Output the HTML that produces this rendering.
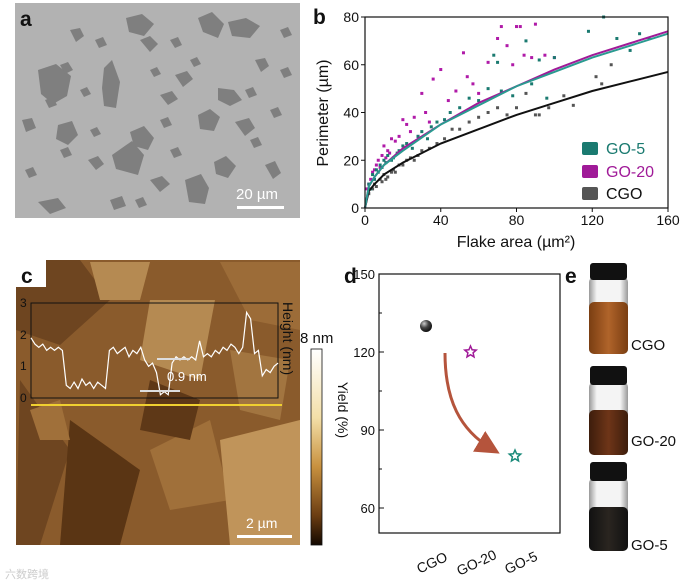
<!DOCTYPE html>
<html><head><meta charset="utf-8"><style>
body{margin:0;background:#fff;}
svg{display:block;font-family:"Liberation Sans",Arial,sans-serif;}
</style></head><body>
<svg id="fig" width="690" height="583" viewBox="0 0 690 583">
<defs>
<linearGradient id="cbar" x1="0" y1="0" x2="0" y2="1">
<stop offset="0" stop-color="#fff"/><stop offset="0.35" stop-color="#f3dfa8"/><stop offset="0.6" stop-color="#c8913f"/><stop offset="0.85" stop-color="#6b3d12"/><stop offset="1" stop-color="#120800"/></linearGradient>
<radialGradient id="ball" cx="0.35" cy="0.3" r="0.7"><stop offset="0" stop-color="#ccc"/><stop offset="0.5" stop-color="#444"/><stop offset="1" stop-color="#111"/></radialGradient>
<linearGradient id="v1" x1="0" x2="1"><stop offset="0" stop-color="#7a3e12"/><stop offset="0.5" stop-color="#b0642a"/><stop offset="1" stop-color="#7a3e12"/></linearGradient>
<linearGradient id="v2" x1="0" x2="1"><stop offset="0" stop-color="#3d1d0c"/><stop offset="0.5" stop-color="#6e3518"/><stop offset="1" stop-color="#3d1d0c"/></linearGradient>
<linearGradient id="v3" x1="0" x2="1"><stop offset="0" stop-color="#111"/><stop offset="0.5" stop-color="#2a2520"/><stop offset="1" stop-color="#111"/></linearGradient>
<linearGradient id="glass" x1="0" x2="1"><stop offset="0" stop-color="#999"/><stop offset="0.2" stop-color="#f4f4f4"/><stop offset="0.8" stop-color="#f4f4f4"/><stop offset="1" stop-color="#999"/></linearGradient>
<marker id="ah" markerWidth="8" markerHeight="8" refX="5" refY="4" orient="auto"><path d="M0,0 L8,4 L0,8 Z" fill="#b5543c"/></marker>
</defs>

<!-- Panel a -->
<g>
<rect x="15" y="3" width="285" height="215" fill="#b2b2b2"/>
<g fill="#7f7f7f">
<path d="M38,70 l18,-6 15,12 -4,20 -14,8 -12,-10z"/><path d="M104,68 l8,-8 8,22 -4,26 -12,-2 -2,-18z"/>
<path d="M126,18 l16,-4 12,10 -10,12 -15,-4z"/><path d="M198,18 l14,-6 12,12 -6,14 -15,-6z"/>
<path d="M228,22 l18,-4 14,8 -10,12 -18,-2z"/><path d="M58,125 l14,-4 6,14 -10,10 -12,-6z"/>
<path d="M112,155 l20,-14 12,14 -6,20 -22,-6z"/><path d="M130,132 l14,-6 10,12 -6,12 -14,-4z"/>
<path d="M198,115 l12,-6 10,8 -6,14 -14,-2z"/><path d="M218,88 l16,2 8,10 -12,6 -12,-6z"/>
<path d="M185,180 l16,-6 8,14 -4,16 -16,-2z"/><path d="M214,162 l12,-6 10,10 -8,12 -12,-4z"/>
<path d="M38,202 l20,-4 8,10 -16,6z"/><path d="M150,180 l12,-4 8,8 -10,8z"/><path d="M235,122 l14,-4 6,10 -10,8z"/>
<path d="M140,40 l10,-4 8,8 -8,8z"/><path d="M175,75 l12,-4 6,8 -10,8z"/><path d="M265,165 l10,-4 6,12 -8,6z"/>
<path d="M70,30 l10,-2 4,8 -8,6z"/><path d="M88,160 l10,-4 6,8 -8,6z"/><path d="M255,60 l10,-2 4,8 -8,6z"/>
<path d="M160,95 l12,-4 6,8 -10,6z"/><path d="M22,120 l10,-2 4,10 -10,4z"/><path d="M110,200 l12,-4 4,10 -12,4z"/>
<path d="M60,65 l8,-3 5,8 -8,4z"/><path d="M80,90 l7,-3 4,7 -7,3z"/><path d="M150,70 l7,-3 4,7 -7,3z"/>
<path d="M170,40 l8,-3 4,8 -7,3z"/><path d="M190,60 l7,-3 4,7 -7,3z"/><path d="M245,90 l8,-3 4,8 -8,3z"/>
<path d="M270,110 l8,-3 4,8 -8,3z"/><path d="M60,150 l8,-3 4,8 -8,3z"/><path d="M90,130 l7,-3 4,7 -7,3z"/>
<path d="M170,150 l8,-3 4,8 -8,3z"/><path d="M250,140 l8,-3 4,8 -8,3z"/><path d="M280,70 l8,-3 4,8 -8,3z"/>
<path d="M25,170 l8,-3 4,8 -8,3z"/><path d="M135,200 l8,-3 4,8 -8,3z"/><path d="M280,30 l8,-3 4,8 -8,3z"/>
<path d="M95,40 l8,-3 4,8 -8,3z"/><path d="M45,100 l8,-3 4,8 -8,3z"/><path d="M160,120 l8,-3 4,8 -8,3z"/>
</g>
<text x="20" y="26" font-size="21" font-weight="bold" fill="#111">a</text>
<text x="236" y="199" font-size="15" fill="#fff">20 µm</text>
<rect x="237" y="206" width="47" height="3" fill="#fff"/>
</g>

<!-- Panel b -->
<text x="313" y="24" font-size="21" font-weight="bold" fill="#111">b</text>
<g id="pb"></g>

<!-- Panel c -->
<g>
<rect x="16" y="260" width="284" height="285" fill="#8a5b2c"/>
<g>
<path d="M16,260 L80,260 L110,300 L60,345 L16,330z" fill="#6e4520"/>
<path d="M90,262 L150,262 L140,300 L100,300z" fill="#b58a52"/>
<path d="M150,300 L215,300 L200,380 L140,360z" fill="#b58a52"/>
<path d="M220,262 L300,262 L300,330 L250,320z" fill="#9c6c38"/>
<path d="M20,380 L70,450 L40,545 L16,545z" fill="#6e4520"/>
<path d="M70,420 L140,470 L120,545 L60,545z" fill="#5a3514"/>
<path d="M150,450 L210,420 L230,500 L170,510z" fill="#a0703a"/>
<path d="M220,440 L300,420 L300,545 L230,545z" fill="#c0945a"/>
<path d="M230,350 L290,360 L280,420 L240,410z" fill="#a27540"/>
<path d="M150,380 L200,400 L190,440 L140,430z" fill="#5e3817"/>
<path d="M30,410 L60,400 L70,440 L40,440z" fill="#a0703a"/>
</g>
<rect x="31" y="303" width="247" height="95" fill="none" stroke="#111" stroke-width="1"/>
<line x1="31" y1="405" x2="282" y2="405" stroke="#f0d030" stroke-width="2"/>
<g font-size="12" fill="#111">
<text x="20" y="307">3</text><text x="20" y="339">2</text><text x="20" y="370">1</text><text x="20" y="402">0</text>
<text transform="translate(283,302) rotate(90)" font-size="14">Height (nm)</text>
</g>
<polyline id="prof" fill="none" stroke="#fff" stroke-width="1.2"/>
<line x1="157" y1="359" x2="190" y2="359" stroke="#ddd" stroke-width="2"/>
<line x1="140" y1="391" x2="180" y2="391" stroke="#ddd" stroke-width="2"/>
<text x="167" y="381" font-size="13" fill="#fff">0.9 nm</text>
<rect x="16" y="260" width="30" height="27" fill="#fff"/>
<text x="21" y="283" font-size="21" font-weight="bold" fill="#111">c</text>
<text x="246" y="528" font-size="14" fill="#fff">2 µm</text>
<rect x="237" y="535" width="55" height="3" fill="#fff"/>
<rect x="311" y="349" width="11" height="196" fill="url(#cbar)" stroke="#111" stroke-width="0.8"/>
<text x="300" y="343" font-size="15" fill="#111">8 nm</text>
</g>

<!-- Panel d -->
<text x="344" y="283" font-size="21" font-weight="bold" fill="#111">d</text>
<g id="pd"></g>

<!-- Panel e -->
<g>
<text x="565" y="283" font-size="21" font-weight="bold" fill="#111">e</text>
<g>
<rect x="589" y="277" width="39" height="77" rx="5" fill="url(#glass)"/>
<rect x="589" y="302" width="39" height="52" rx="5" fill="url(#v1)"/>
<rect x="590" y="263" width="37" height="17" rx="3" fill="#111"/></g>
<text x="631" y="350" font-size="15" fill="#111">CGO</text>
<g>
<rect x="589" y="382" width="39" height="73" rx="5" fill="url(#glass)"/>
<rect x="589" y="410" width="39" height="45" rx="5" fill="url(#v2)"/>
<rect x="590" y="366" width="37" height="19" rx="3" fill="#111"/></g>
<text x="631" y="446" font-size="15" fill="#111">GO-20</text>
<g>
<rect x="589" y="478" width="39" height="73" rx="5" fill="url(#glass)"/>
<rect x="589" y="507" width="39" height="44" rx="5" fill="url(#v3)"/>
<rect x="590" y="462" width="37" height="19" rx="3" fill="#111"/></g>
<text x="631" y="550" font-size="15" fill="#111">GO-5</text>
</g>
<text x="5" y="578" font-size="11" fill="#ccc" font-family="'Liberation Sans','Noto Sans CJK SC',sans-serif">六数跨境</text>
</svg>
<script>
const NS='http://www.w3.org/2000/svg';
// ---- Panel b data ----
const bXTicks=[0,40,80,120,160];
const bYTicks=[0,20,40,60,80];
const fitX=[0,2,5,10,20,40,60,80,100,120,140,160];
const fitGO5=[0,9,13,18,24,35,43,51,57,63,68,73];
const fitGO20=[0,9,13,18,25,35,44,51,58,64,69,74];
const fitCGO=[0,7,10,14,19,27,33,39,44,49,53,57];
const go5X=[2,3,4,5,6,7,8,9,10,11,12,14,15,17,18,20,22,25,28,30,33,35,38,42,45,50,55,60,65,68,70,72,78,85,88,92,96,100,118,126,133,140,145,150];
const go5Y=[10,8,14,12,16,15,18,17,20,19,22,20,21,23,24,26,27,25,30,32,29,34,36,37,40,42,46,45,50,64,61,49,47,70,52,62,46,63,74,80,71,66,73,71];
const go20X=[1,2,3,4,5,6,7,8,9,10,11,12,13,14,16,18,20,22,24,26,28,30,32,34,36,40,44,48,52,54,57,60,65,70,72,75,78,80,82,84,88,90,95,100];
const go20Y=[8,10,12,15,16,18,20,17,22,26,21,24,23,29,28,30,37,35,32,38,30,48,40,36,54,58,45,49,65,55,52,48,61,71,76,68,60,76,76,64,63,77,64,63];
const cgoX=[2,4,5,6,8,9,10,11,12,14,15,16,18,20,22,24,26,28,30,34,38,42,46,50,55,60,65,70,75,80,85,90,92,97,105,110,122,125,130];
const cgoY=[6,8,10,9,12,11,14,12,13,15,16,15,18,18,20,21,20,22,24,25,27,29,33,33,36,38,40,42,39,42,48,39,39,42,47,43,55,52,60];
const bx=v=>365+v*(668-365)/160, by=v=>208-v*(208-17)/80;
function el(t,a,p){const e=document.createElementNS(NS,t);for(const k in a)e.setAttribute(k,a[k]);(p||document.getElementById('fig')).appendChild(e);return e;}
const pb=document.getElementById('pb');
function dots(xs,ys,c,n){xs.forEach((x,i)=>{const r=el('rect',{x:bx(x)-1.5,y:by(ys[i])-1.5,width:3,height:3,fill:c},pb);

});}
dots(cgoX,cgoY,'#555','cgo-point');dots(go20X,go20Y,'#b01aa8','go20-point');dots(go5X,go5Y,'#1a7a70','go5-point');
function fit(ys,c,n){const p=el('polyline',{points:fitX.map((x,i)=>bx(x)+','+by(ys[i])).join(' '),fill:'none',stroke:c,'stroke-width':2},pb);

}
fit(fitCGO,'#111','cgo-fit');fit(fitGO20,'#a01a98','go20-fit');fit(fitGO5,'#2a9a90','go5-fit');
el('rect',{x:365,y:17,width:303,height:191,fill:'none',stroke:'#111','stroke-width':1.2},pb);
bXTicks.forEach(t=>{el('line',{x1:bx(t),x2:bx(t),y1:208,y2:212,stroke:'#111'},pb);
const tx=el('text',{x:bx(t),y:225,'font-size':14,'text-anchor':'middle',fill:'#111'},pb);tx.textContent=t;

});
bYTicks.forEach(t=>{el('line',{x1:361,x2:365,y1:by(t),y2:by(t),stroke:'#111'},pb);
const tx=el('text',{x:359,y:by(t)+5,'font-size':14,'text-anchor':'end',fill:'#111'},pb);tx.textContent=t;

});
let t=el('text',{x:516,y:247,'font-size':16,'text-anchor':'middle',fill:'#111'},pb);t.textContent='Flake area (µm²)';


t=el('text',{transform:'translate(328,113) rotate(-90)','font-size':16,'text-anchor':'middle',fill:'#111'},pb);t.textContent='Perimeter (µm)';


[['GO-5','#1a7a70',153],['GO-20','#a01a98',176],['CGO','#555',198]].forEach(([n,c,y])=>{
const g=el('g',{},pb);


el('rect',{x:582,y:y-11,width:16,height:13,rx:2,fill:c},g);
const x=el('text',{x:606,y:y+1,'font-size':16,fill:c==='#555'?'#111':c},g);x.textContent=n;});
// ---- profile ----
const profH=[1.9,1.7,1.6,1.7,1.5,1.6,1.5,1.6,1.5,0.4,0.3,0.5,0.3,0.6,0.4,0.5,0.3,0.5,0.4,0.3,1.5,1.6,1.4,1.5,1.6,1.3,1.5,1.4,1.6,1.2,1.0,1.1,0.8,0.1,0.2,0.1,1.1,1.3,1.2,1.3,1.2,1.3,1.2,1.8,1.3,1.4,1.3,1.5,1.4,1.6,1.5,1.7,1.6,1.4,1.6,2.7,2.5,1.4,1.5,0.7,0.9,0.8,1.0,1.1];
const prof=document.getElementById('prof');
prof.setAttribute('points',profH.map((h,i)=>(31+i*247/(profH.length-1)).toFixed(1)+','+(398-h*31.7).toFixed(1)).join(' '));
// ---- Panel d ----
const dCats=['CGO','GO-20','GO-5'];
const dYield=[130,120,80];
const dYTicks=[60,90,120,150];
const pd=document.getElementById('pd');
const dx=i=>426+i*44.5, dy=v=>274+(150-v)*78/30;
el('rect',{x:379,y:274,width:181,height:259,fill:'none',stroke:'#111','stroke-width':1.2},pd);
dYTicks.forEach(v=>{el('line',{x1:379,x2:384,y1:dy(v),y2:dy(v),stroke:'#111'},pd);
const tx=el('text',{x:375,y:dy(v)+5,'font-size':13,'text-anchor':'end',fill:'#111'},pd);tx.textContent=v;

});
[135,105,75].forEach(v=>el('line',{x1:379,x2:382,y1:dy(v),y2:dy(v),stroke:'#111'},pd));
t=el('text',{transform:'translate(338,410) rotate(90)','font-size':14,'text-anchor':'middle',fill:'#111'},pd);t.textContent='Yield (%)';


dCats.forEach((c,i)=>{const tx=el('text',{transform:`translate(${dx(i)+8},${567}) rotate(-25)`,'font-size':14,'text-anchor':'middle',fill:'#111'},pd);tx.textContent=c;

});
let m=el('circle',{cx:dx(0),cy:dy(dYield[0]),r:6,fill:'url(#ball)'},pd);


function star(cx,cy,r,c){const p=[];for(let k=0;k<10;k++){const a=-Math.PI/2+k*Math.PI/5,rr=k%2?r*0.45:r;p.push((cx+rr*Math.cos(a)).toFixed(1)+','+(cy+rr*Math.sin(a)).toFixed(1));}
return el('polygon',{points:p.join(' '),fill:'none',stroke:c,'stroke-width':1.5},pd);}
m=star(dx(1),dy(dYield[1]),6,'#a01a98');


m=star(dx(2),dy(dYield[2]),6,'#1a8a7a');


m=el('path',{d:`M445,353 C445,400 460,430 492,449`,fill:'none',stroke:'#b5543c','stroke-width':3,'marker-end':'url(#ah)'},pd);


</script>
</body></html>
